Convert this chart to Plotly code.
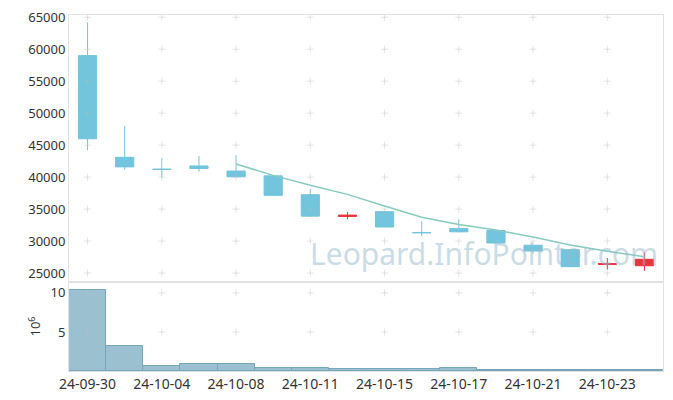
from plotly.subplots import make_subplots
import plotly.graph_objects as go

dates = ["24-09-30", "24-10-02", "24-10-04", "24-10-07", "24-10-08", "24-10-10",
         "24-10-11", "24-10-14", "24-10-15", "24-10-16", "24-10-17", "24-10-18",
         "24-10-21", "24-10-22", "24-10-23", "24-10-24"]
open_ = [59000, 43100, 41250, 41750, 40950, 40200, 37250, 33850,
         34600, 31350, 31950, 31650, 29350, 28650, 26350, 26150]
high = [64200, 48000, 42950, 43300, 43450, 40300, 38150, 34550,
        34700, 33100, 33450, 31750, 29400, 28700, 27350, 28200]
low = [44200, 41200, 39950, 40850, 40000, 37100, 33750, 33400,
       32150, 30800, 31350, 29650, 28050, 25950, 25550, 25350]
close = [46000, 41600, 41200, 41350, 40050, 37150, 33900, 34050,
         32200, 31300, 31450, 29700, 28450, 26000, 26450, 27150]
ma5 = [None, None, None, None, 42040, 40270, 38730, 37300,
       35470, 33720, 32580, 31740, 30620, 29380, 28410, 27550]
volume = [10.4, 3.2, 0.64, 0.94, 0.92, 0.38, 0.37, 0.26,
          0.27, 0.26, 0.38, 0.15, 0.15, 0.15, 0.15, 0.15]  # millions

price_ticks = [25000, 30000, 35000, 40000, 45000, 50000, 55000, 60000, 65000]
vol_ticks = [5, 10]
x_ticks = dates[::2]

blue = "rgb(115,196,221)"
red = "rgb(232,52,58)"
grid_plus = "rgba(190,190,190,0.4)"
font = "Noto Sans"

fig = make_subplots(rows=2, cols=1, shared_xaxes=True, vertical_spacing=0,
                    row_heights=[0.75, 0.25])

# "+" marks at grid intersections
fig.add_trace(go.Scatter(
    x=[d for d in x_ticks for _ in price_ticks], y=[p for _ in x_ticks for p in price_ticks],
    mode="markers", marker=dict(symbol="cross-thin", size=5, line=dict(color=grid_plus, width=1)),
    hoverinfo="skip", showlegend=False), row=1, col=1)
fig.add_trace(go.Scatter(
    x=[d for d in x_ticks for _ in vol_ticks], y=[v for _ in x_ticks for v in vol_ticks],
    mode="markers", marker=dict(symbol="cross-thin", size=5, line=dict(color=grid_plus, width=1)),
    hoverinfo="skip", showlegend=False), row=2, col=1)

fig.add_trace(go.Candlestick(
    x=dates, open=open_, high=high, low=low, close=close,
    increasing=dict(line=dict(color=red, width=1), fillcolor=red),
    decreasing=dict(line=dict(color=blue, width=1), fillcolor=blue),
    whiskerwidth=0, hoverinfo="skip", showlegend=False), row=1, col=1)

fig.add_trace(go.Scatter(
    x=dates, y=ma5, mode="lines", line=dict(color="rgb(135,202,192)", width=1.5),
    hoverinfo="skip", showlegend=False), row=1, col=1)

fig.add_trace(go.Bar(
    x=dates, y=volume, marker=dict(color="rgb(155,193,209)",
                                   line=dict(color="rgb(118,166,188)", width=1)),
    hoverinfo="skip", showlegend=False), row=2, col=1)

axis_style = dict(showline=True, linecolor="#e2e2e2", linewidth=1, mirror=True,
                  showgrid=False, zeroline=False, automargin=False,
                  ticklabeloverflow="allow",
                  tickfont=dict(family=font, size=13, color="#333"))

fig.update_xaxes(type="category", categoryorder="array", categoryarray=dates,
                 range=[-0.5, len(dates) - 0.5], tickvals=x_ticks, ticks="",
                 **axis_style)
fig.update_xaxes(tickfont=dict(family=font, size=14, color="#333"), row=2, col=1)
fig.update_xaxes(showticklabels=False, rangeslider_visible=False, row=1, col=1)
fig.update_yaxes(range=[23600, 65350], tickvals=price_ticks, tickformat="d", ticks="",
                 **axis_style, row=1, col=1)
fig.update_yaxes(range=[0, 11.4], tickvals=vol_ticks, ticks="", **axis_style,
                 title=dict(text="10<sup>6</sup>", font=dict(family=font, size=13, color="#333"),
                            standoff=6),
                 row=2, col=1)

fig.add_annotation(text="Leopard.InfoPointer.com", xref="paper", yref="paper",
                   x=0.699, y=0.33, xanchor="center", yanchor="middle", showarrow=False,
                   font=dict(family=font, size=30, color="rgba(150,185,205,0.5)"))

# page body adds an 8px offset, so margins are trimmed to match
fig.update_layout(width=673, height=400, margin=dict(l=61, r=18, t=7, b=37),
                  plot_bgcolor="white", paper_bgcolor="white", bargap=0,
                  font=dict(family=font))

fig.write_html("out.html")
